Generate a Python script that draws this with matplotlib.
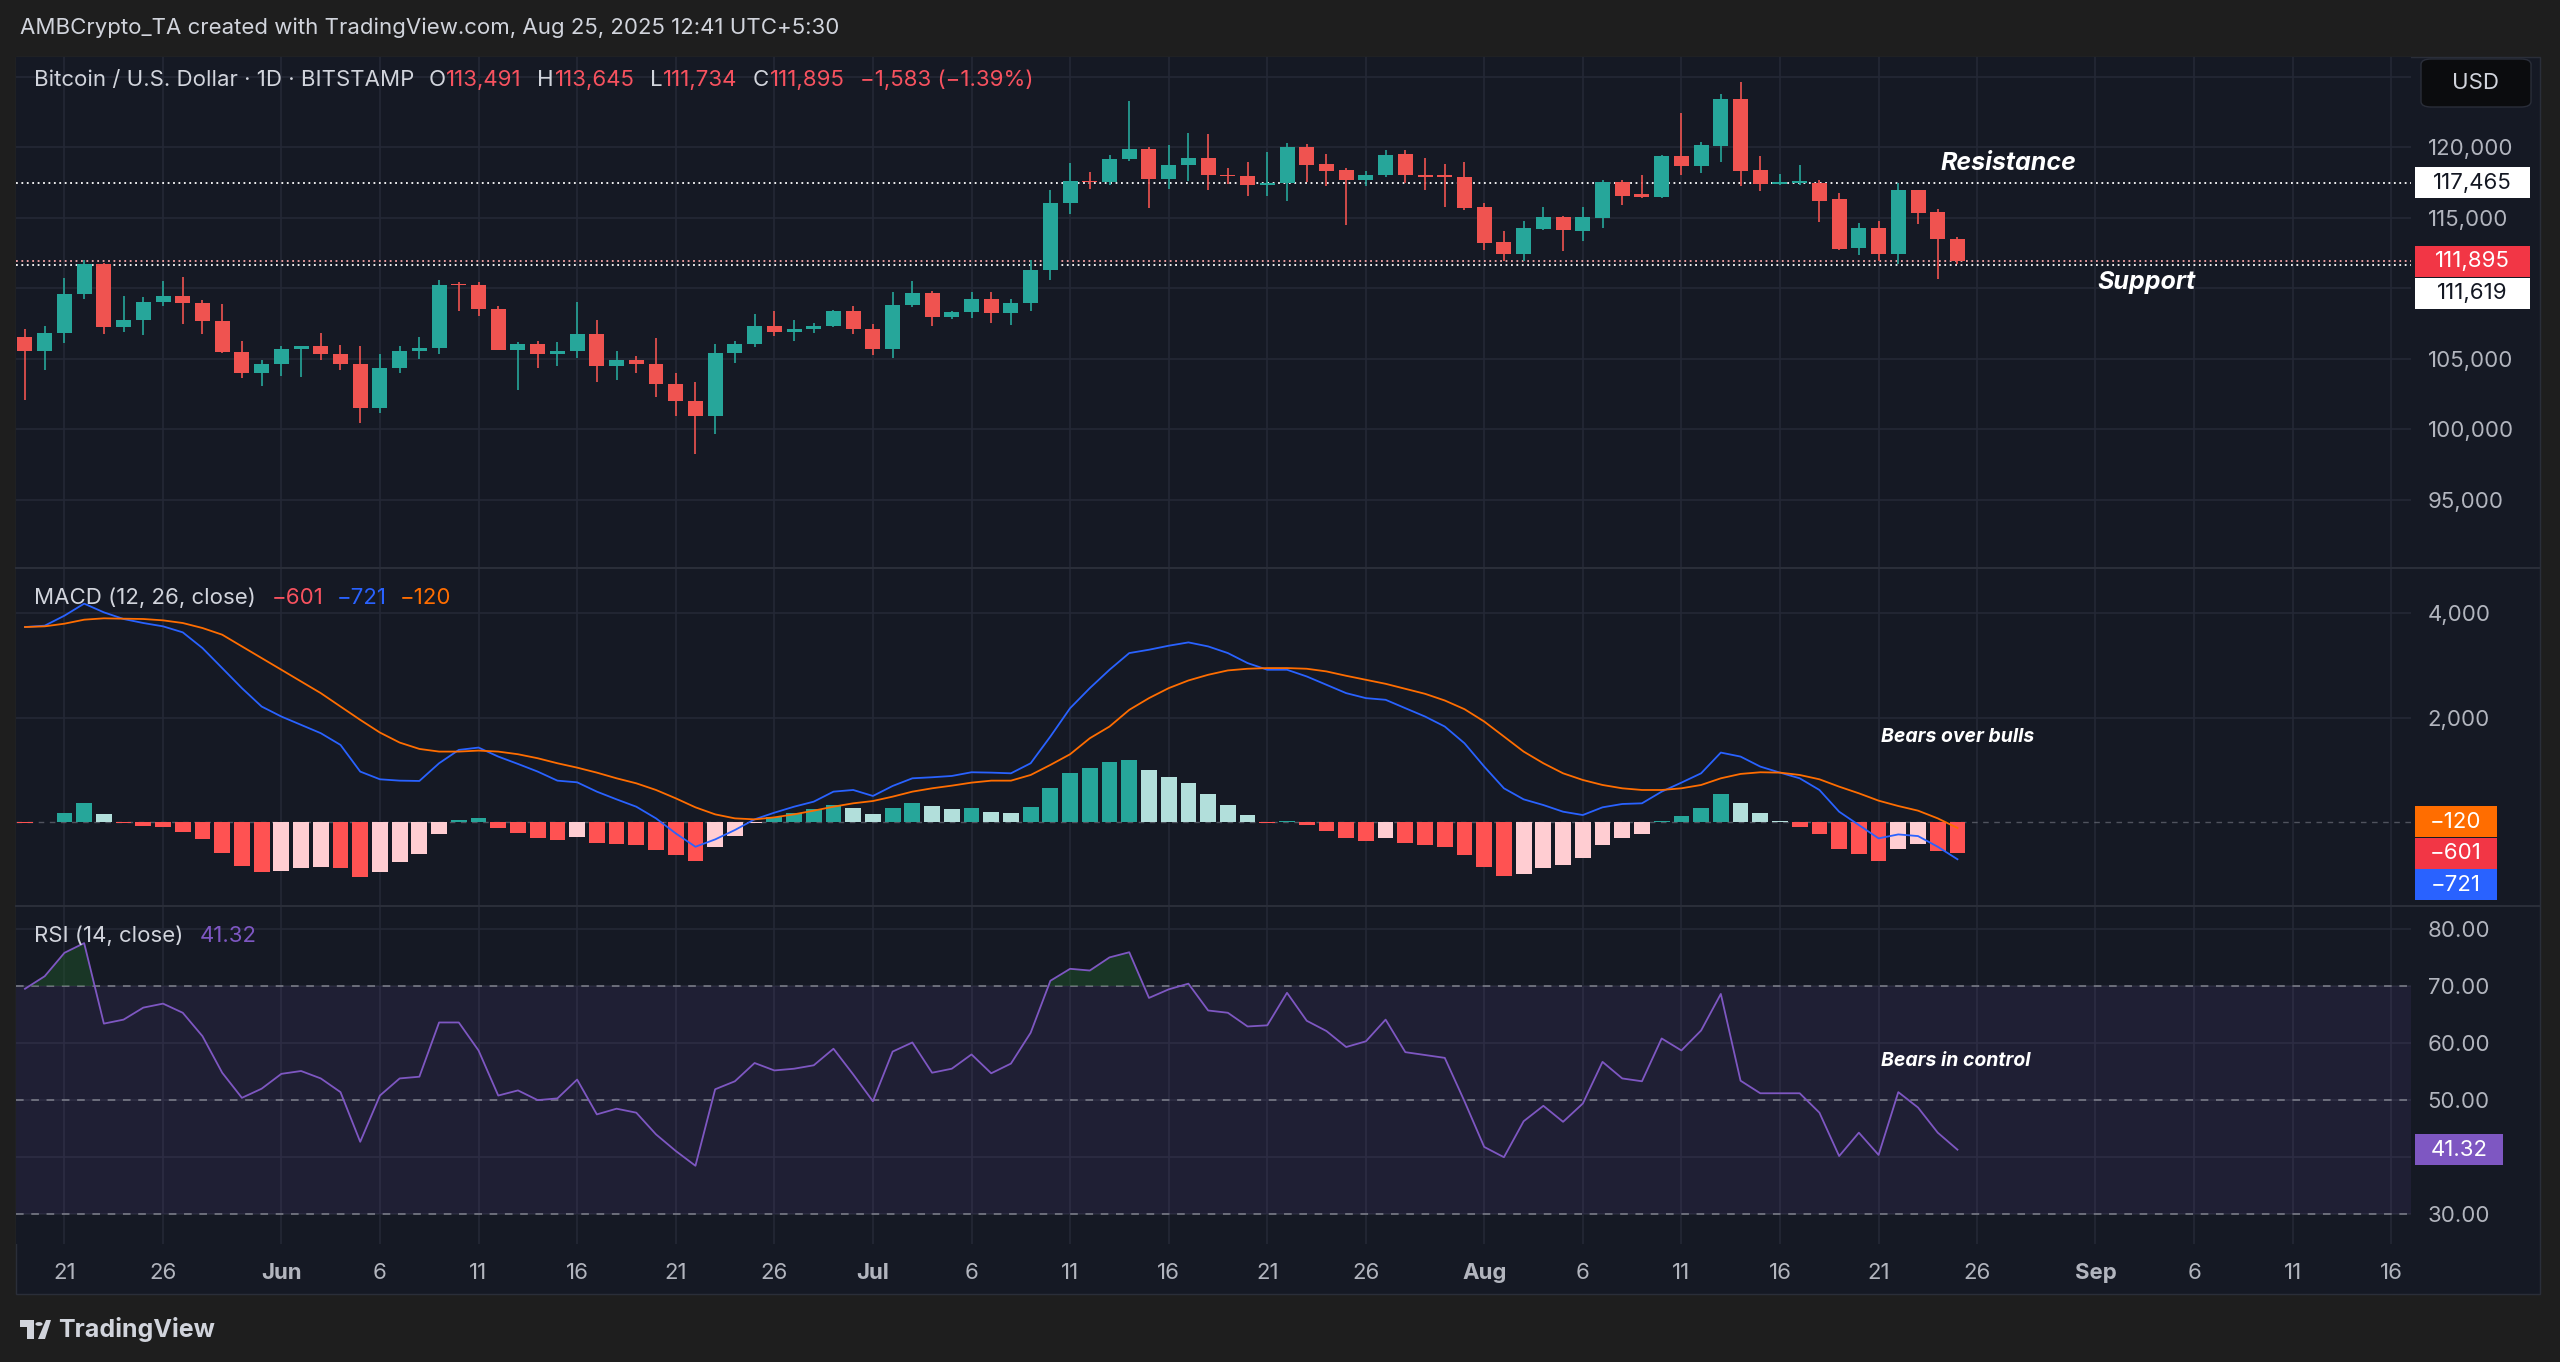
import matplotlib
matplotlib.use("Agg")
import matplotlib.pyplot as plt
import matplotlib.dates as mdates
from matplotlib.patches import Rectangle, FancyBboxPatch, Circle, Polygon
from matplotlib.lines import Line2D
import numpy as np
import pandas as pd

plt.rcParams['font.family'] = ['Inter', 'DejaVu Sans']

# ---- data ----
dates = pd.date_range('2025-05-19', '2025-08-25', freq='D')

opens = [106510, 105560, 106810, 109600, 111720, 107220, 107730, 109010, 109410, 108940,
         107690, 105470, 103940, 104620, 105700, 105870, 105350, 104620, 101460, 104340,
         105560, 105750, 110240, 110190, 108540, 105630, 106060, 105350, 105560, 106740,
         104450, 104880, 104620, 103200, 101980, 100910, 105400, 106060, 107330, 106860,
         107100, 107290, 108390, 107110, 105670, 108820, 109650, 107910, 108270, 109220,
         108200, 108930, 111300, 116040, 117580, 117510, 119120, 119880, 117750, 118700,
         119240, 117990, 117940, 117280, 117440, 120000, 118770, 118400, 117630, 117990,
         119530, 118030, 117990, 117870, 115780, 113250, 112420, 114150, 115020, 114030,
         114980, 117510, 116640, 116450, 119340, 118650, 120070, 123390, 118390, 117390,
         117420, 117470, 116330, 112820, 114240, 112420, 116920, 115380, 113491]
highs = [107100, 107290, 110710, 111960, 111800, 109410, 109360, 110470, 110760, 109170,
         108870, 106270, 104880, 105920, 105920, 106810, 105990, 105920, 105350, 105920,
         106510, 110540, 110400, 110400, 108750, 106150, 106220, 106150, 108990, 107760,
         105560, 105210, 106460, 103940, 103320, 106040, 106270, 108160, 108350, 107760,
         107520, 108470, 108740, 107430, 109740, 110520, 109810, 108340, 109740, 109740,
         109220, 111990, 116970, 118890, 118220, 119460, 123250, 120000, 120120, 121020,
         120950, 118510, 118930, 119650, 120310, 120190, 119530, 118510, 118270, 119810,
         119810, 119240, 118820, 118930, 116020, 114030, 114740, 115730, 115140, 115730,
         117680, 117680, 117990, 119400, 122440, 120360, 123790, 124580, 119360, 118060,
         118700, 117630, 116730, 114620, 114740, 117470, 116950, 115620, 113645]
lows = [102050, 104220, 106110, 109220, 106740, 106860, 106650, 108700, 107480, 106740,
        105400, 103630, 103040, 103790, 103680, 104880, 104220, 100440, 101100, 103980,
        105000, 105350, 108350, 108040, 105600, 102800, 104340, 104450, 105040, 103320,
        103460, 103940, 102280, 100910, 98200, 99660, 104690, 105820, 106630, 106220,
        106810, 107215, 106720, 105280, 105070, 108620, 107320, 107800, 107840, 107510,
        107380, 108340, 110590, 115260, 117040, 117280, 118980, 115660, 117040, 117560,
        116920, 117390, 116560, 116560, 116160, 117510, 117230, 114500, 117230, 117900,
        117440, 116920, 115780, 115500, 112700, 111940, 111900, 114080, 112650, 113320,
        114270, 115900, 116400, 116400, 118030, 118180, 118930, 117200, 116850, 117280,
        117280, 114670, 112700, 112350, 111940, 111710, 114550, 110640, 111734]
closes = [105560, 106810, 109600, 111720, 107220, 107730, 109010, 109410, 108940, 107690,
          105470, 103940, 104620, 105700, 105870, 105350, 104620, 101460, 104340, 105560,
          105750, 110240, 110190, 108540, 105630, 106060, 105350, 105560, 106740, 104450,
          104880, 104620, 103200, 101980, 100910, 105400, 106060, 107330, 106860, 107100,
          107290, 108390, 107110, 105670, 108820, 109650, 107910, 108270, 109220, 108200,
          108930, 111300, 116040, 117580, 117510, 119120, 119880, 117750, 118700, 119240,
          117990, 117940, 117280, 117440, 120000, 118700, 118270, 117630, 117990, 119460,
          117990, 117870, 117840, 115690, 113170, 112420, 114240, 115020, 114080, 115020,
          117510, 116560, 116450, 119340, 118650, 120170, 123390, 118300, 117390, 117510,
          117560, 116160, 112770, 114240, 112420, 116920, 115310, 113480, 111895]

macd = [3737, 3763, 3955, 4186, 4019, 3891, 3814, 3750, 3635, 3333,
        2949, 2564, 2211, 2019, 1859, 1699, 1474, 962, 814, 788,
        782, 1122, 1378, 1423, 1250, 1109, 962, 788, 756, 577,
        429, 288, 64, -224, -481, -340, -160, 45, 173, 288,
        385, 577, 609, 494, 686, 833, 853, 878, 949, 942,
        929, 1122, 1635, 2179, 2564, 2917, 3237, 3301, 3378, 3442,
        3365, 3237, 3045, 2917, 2917, 2788, 2628, 2468, 2372, 2340,
        2179, 2019, 1827, 1506, 1058, 641, 429, 320, 192, 128,
        276, 340, 353, 577, 750, 929, 1327, 1250, 1058, 942,
        833, 609, 192, -64, -320, -244, -276, -481, -721]
signal = [3737, 3750, 3801, 3878, 3904, 3897, 3891, 3865, 3814, 3718,
          3590, 3365, 3141, 2917, 2692, 2468, 2211, 1955, 1711, 1519,
          1397, 1346, 1346, 1365, 1346, 1295, 1218, 1122, 1038, 942,
          833, 737, 609, 449, 276, 141, 64, 45, 83, 141,
          212, 288, 353, 397, 481, 577, 641, 692, 750, 788,
          788, 897, 1090, 1295, 1602, 1827, 2147, 2372, 2564, 2711,
          2820, 2904, 2936, 2949, 2949, 2936, 2885, 2801, 2724, 2647,
          2551, 2455, 2327, 2160, 1923, 1635, 1346, 1122, 929, 801,
          705, 641, 609, 609, 641, 705, 833, 917, 949, 942,
          897, 814, 673, 545, 404, 301, 212, 64, -120]
hist = [-30, -15, 160, 365, 141, -20, -83, -109, -192, -340,
        -596, -853, -962, -942, -885, -865, -885, -1071, -962, -782,
        -628, -237, 32, 70, -128, -224, -308, -353, -301, -417,
        -436, -449, -545, -641, -750, -481, -269, -32, 83, 173,
        237, 320, 269, 141, 256, 353, 301, 237, 263, 180,
        160, 288, 654, 929, 1026, 1154, 1179, 987, 853, 750,
        526, 327, 128, -32, 12, -64, -179, -308, -365, -320,
        -404, -455, -494, -641, -865, -1045, -1006, -885, -833, -705,
        -449, -320, -237, 15, 109, 256, 532, 365, 160, 20,
        -96, -237, -532, -622, -750, -532, -436, -564, -601]
rsi = [69.5, 71.7, 75.8, 77.5, 63.4, 64.1, 66.2, 66.9, 65.3, 61.2,
       54.8, 50.4, 52.0, 54.6, 55.1, 53.8, 51.4, 42.7, 50.8, 53.8,
       54.1, 63.6, 63.6, 58.7, 50.8, 51.7, 50.0, 50.3, 53.6, 47.5,
       48.5, 47.8, 44.0, 41.1, 38.5, 51.9, 53.3, 56.5, 55.2, 55.5,
       56.1, 59.0, 54.5, 49.8, 58.5, 60.1, 54.8, 55.5, 58.0, 54.7,
       56.4, 61.8, 70.9, 73.0, 72.7, 75.0, 75.9, 67.9, 69.4, 70.4,
       65.7, 65.3, 62.9, 63.1, 68.8, 63.9, 62.1, 59.3, 60.3, 64.1,
       58.4, 57.9, 57.4, 49.8, 41.8, 40.0, 46.3, 49.0, 46.2, 49.4,
       56.7, 53.8, 53.3, 60.8, 58.7, 62.2, 68.6, 53.4, 51.2, 51.2,
       51.2, 47.8, 40.2, 44.3, 40.4, 51.4, 48.7, 44.3, 41.32]

tick_dates = ['2025-05-21', '2025-05-26', '2025-06-01', '2025-06-06', '2025-06-11', '2025-06-16',
              '2025-06-21', '2025-06-26', '2025-07-01', '2025-07-06', '2025-07-11', '2025-07-16',
              '2025-07-21', '2025-07-26', '2025-08-01', '2025-08-06', '2025-08-11', '2025-08-16',
              '2025-08-21', '2025-08-26', '2025-09-01', '2025-09-06', '2025-09-11', '2025-09-16']
tick_labels = ['21', '26', 'Jun', '6', '11', '16', '21', '26', 'Jul', '6', '11', '16',
               '21', '26', 'Aug', '6', '11', '16', '21', '26', 'Sep', '6', '11', '16']
month_labels = ['Jun', 'Jul', 'Aug', 'Sep']

price_ticks = [95000, 100000, 105000, 110000, 115000, 120000, 125000]
price_tick_labels = ['95,000', '100,000', '105,000', '', '115,000', '120,000', '']
macd_ticks = [2000, 4000]
macd_tick_labels = ['2,000', '4,000']
rsi_ticks = [30, 40, 50, 60, 70, 80]
rsi_tick_labels = ['30.00', '', '50.00', '60.00', '70.00', '80.00']

resistance = 117465
support = 111619
last_close = 111895

# ---- colours ----
OUTER = '#1e1e1e'
BG = '#151924'
GRID = '#242836'
SEP = '#2a2e39'
TXT = '#d1d4dc'
AXT = '#b2b5be'
UP = '#26a69a'
DN = '#ef5350'
RED_TXT = '#f7525f'
BLUE = '#2962ff'
ORANGE = '#ff6d00'
PURPLE = '#7e57c2'

W, H = 2560, 1362
fig = plt.figure(figsize=(W / 100, H / 100), dpi=100, facecolor=OUTER)


def pane(x0, y0, x1, y1):
    a = fig.add_axes([x0 / W, 1 - y1 / H, (x1 - x0) / W, (y1 - y0) / H])
    a.set_facecolor(BG)
    for s in a.spines.values():
        s.set_visible(False)
    return a


# chart frame
fig.add_artist(Rectangle((16 / W, 1 - 1294 / H), (2540 - 16) / W, (1294 - 57) / H,
                         transform=fig.transFigure, facecolor=BG, edgecolor=SEP, lw=1, zorder=0))

x = mdates.date2num(dates)
xt = mdates.date2num(pd.to_datetime(tick_dates))
xlim = (x[0] - 0.456, x[0] + 121.0)

ax = pane(16, 57, 2411, 567)
ax2 = pane(16, 568, 2411, 905)
ax3 = pane(16, 906, 2411, 1244)

for a in (ax, ax2, ax3):
    a.set_xlim(*xlim)
    a.set_xticks(xt)
    a.grid(True, color=GRID, lw=1.2)
    a.set_axisbelow(True)
    a.yaxis.tick_right()
    a.tick_params(axis='y', length=0, pad=12, labelsize=16, labelcolor=AXT)
    a.tick_params(axis='x', length=0, labelbottom=False)

# ---- price pane ----
o = np.array(opens); h = np.array(highs); l = np.array(lows); c = np.array(closes)
col = np.where(c >= o, UP, DN)
ax.vlines(x, l, h, color=col, lw=1.2, zorder=3)
ax.bar(x, np.maximum(np.abs(c - o), 70), bottom=np.minimum(o, c), width=0.76,
       color=col, zorder=4)
ax.set_ylim(90213, 126383)
ax.set_yticks(price_ticks)
ax.set_yticklabels(price_tick_labels)
ax.axhline(resistance, color='white', ls=(0, (1, 2)), lw=1.3, zorder=2)
ax.axhline(last_close, color='#f8a5a8', ls=(0, (1, 2)), lw=1.3, zorder=2)
ax.axhline(support, color='white', ls=(0, (1, 2)), lw=1.3, zorder=2)

# ---- MACD pane ----
hv = np.array(hist)
prev = np.concatenate([[hv[0]], hv[:-1]])
hcol = np.where(hv >= 0, np.where(hv >= prev, UP, '#b2dfdb'),
                np.where(hv <= prev, '#ff5252', '#ffcdd2'))
ax2.bar(x, hv, width=0.8, color=hcol, zorder=3)
ax2.plot(x, macd, color=BLUE, lw=1.3, zorder=4)
ax2.plot(x, signal, color=ORANGE, lw=1.3, zorder=4)
ax2.axhline(0, color='#787b86', ls=(0, (4, 4)), lw=1, alpha=0.6, zorder=2)
ax2.set_ylim(-1599, 4870)
ax2.set_yticks(macd_ticks)
ax2.set_yticklabels(macd_tick_labels)

# ---- RSI pane ----
rv = np.array(rsi)
ax3.axhspan(30, 70, color=PURPLE, alpha=0.1, lw=0, zorder=1)
for lvl in (70, 50, 30):
    ax3.axhline(lvl, color='#9598a1', ls=(0, (5, 5)), lw=1.1, alpha=0.8, zorder=2)
ax3.fill_between(x, rv, 70, where=rv >= 70, interpolate=True, color='#1f5a2a', alpha=0.45, lw=0, zorder=2)
ax3.plot(x, rv, color=PURPLE, lw=1.3, zorder=4)
ax3.set_ylim(24.8, 84.0)
ax3.set_yticks(rsi_ticks)
ax3.set_yticklabels(rsi_tick_labels)
ax3.tick_params(axis='x', labelbottom=True, pad=14, labelsize=16, labelcolor=AXT)
ax3.set_xticklabels(tick_labels)
for t in ax3.get_xticklabels():
    if t.get_text() in month_labels:
        t.set_fontweight('bold')

# pane separators
for yy in (567.5, 905.5):
    fig.add_artist(Line2D([16 / W, 2540 / W], [1 - yy / H, 1 - yy / H], color=SEP, lw=1.5,
                          transform=fig.transFigure))

# ---- texts ----
renderer = fig.canvas.get_renderer()


def chain(x0, y0, pieces, size=16):
    xx = x0
    for s, colr, gap in pieces:
        t = fig.text(xx / W, 1 - y0 / H, s, color=colr, fontsize=size, ha='left', va='center')
        xx += t.get_window_extent(renderer).width + gap


def ypix(a, v):
    return a.transData.transform((x[0], v))[1]


def badge(yc, text, fc, tc, x0=2415, x1=2530, hp=31):
    fig.add_artist(Rectangle((x0 / W, (yc - hp / 2) / H), (x1 - x0) / W, hp / H,
                             transform=fig.transFigure, facecolor=fc, edgecolor='none', zorder=5))
    fig.text((x0 + x1) / 2 / W, yc / H, text, color=tc, fontsize=16, ha='center', va='center', zorder=6)


fig.text(20 / W, 1 - 28 / H, 'AMBCrypto_TA created with TradingView.com, Aug 25, 2025 12:41 UTC+5:30',
         color=TXT, fontsize=16, ha='left', va='center')

chain(34, 80, [('Bitcoin / U.S. Dollar · 1D · BITSTAMP', TXT, 14),
               ('O', TXT, 1), ('113,491', RED_TXT, 15),
               ('H', TXT, 1), ('113,645', RED_TXT, 15),
               ('L', TXT, 1), ('111,734', RED_TXT, 15),
               ('C', TXT, 1), ('111,895', RED_TXT, 15),
               ('−1,583 (−1.39%)', RED_TXT, 0)])
chain(34, 598, [('MACD (12, 26, close)', TXT, 16), ('−601', RED_TXT, 13),
                ('−721', BLUE, 13), ('−120', ORANGE, 0)])
chain(34, 936, [('RSI (14, close)', TXT, 16), ('41.32', PURPLE, 0)])

bold_it = dict(color='white', fontweight='bold', fontstyle='italic', ha='left', va='center')
fig.text(1940 / W, 1 - 163 / H, 'Resistance', fontsize=18, **bold_it)
fig.text(2098 / W, 1 - 283 / H, 'Support', fontsize=18, **bold_it)
fig.text(1881 / W, 1 - 737 / H, 'Bears over bulls', fontsize=14, **bold_it)
fig.text(1881 / W, 1 - 1061 / H, 'Bears in control', fontsize=14, **bold_it)

# price scale badges
badge(ypix(ax, resistance), f'{resistance:,}', 'white', '#131722')
yl = ypix(ax, last_close)
badge(yl, f'{last_close:,}', '#f23645', 'white')
badge(yl - 32, f'{support:,}', 'white', '#131722')
ym = ypix(ax2, hist[-1])
badge(ym + 31.5, f'−{abs(signal[-1])}', ORANGE, 'white', x1=2497)
badge(ym, f'−{abs(hist[-1])}', '#f23645', 'white', x1=2497)
badge(ym - 31.5, f'−{abs(macd[-1])}', BLUE, 'white', x1=2497)
badge(ypix(ax3, rsi[-1]), f'{rsi[-1]:.2f}', PURPLE, 'white', x1=2503)

# USD button
fig.add_artist(FancyBboxPatch((2421 / W, 1 - 107 / H), 110 / W, 48 / H,
                              boxstyle='round,pad=0,rounding_size=0.004',
                              transform=fig.transFigure, facecolor='#0b0c0e', edgecolor=SEP, zorder=5))
fig.text(2476 / W, 1 - 83 / H, 'USD', color=TXT, fontsize=16, ha='center', va='center', zorder=6)

# footer logo
tf = fig.transFigure
fig.add_artist(Polygon([(20 / W, 1 - 1320 / H), (34 / W, 1 - 1320 / H), (34 / W, 1 - 1339 / H),
                        (27 / W, 1 - 1339 / H), (27 / W, 1 - 1327 / H), (20 / W, 1 - 1327 / H)],
                       closed=True, transform=tf, facecolor=TXT, edgecolor='none'))
fig.add_artist(Circle((39 / W, 1 - 1324 / H), 3.6 / W, transform=tf, facecolor=TXT, edgecolor='none'))
fig.add_artist(Polygon([(38 / W, 1 - 1339 / H), (45 / W, 1 - 1339 / H), (51 / W, 1 - 1320 / H),
                        (46 / W, 1 - 1320 / H)], closed=True, transform=tf, facecolor=TXT,
                       edgecolor='none'))
fig.text(58 / W, 1 - 1330 / H, 'TradingView', color=TXT, fontsize=18, fontweight='bold',
         ha='left', va='center')

fig.savefig('out.png', dpi=100, facecolor=OUTER)
